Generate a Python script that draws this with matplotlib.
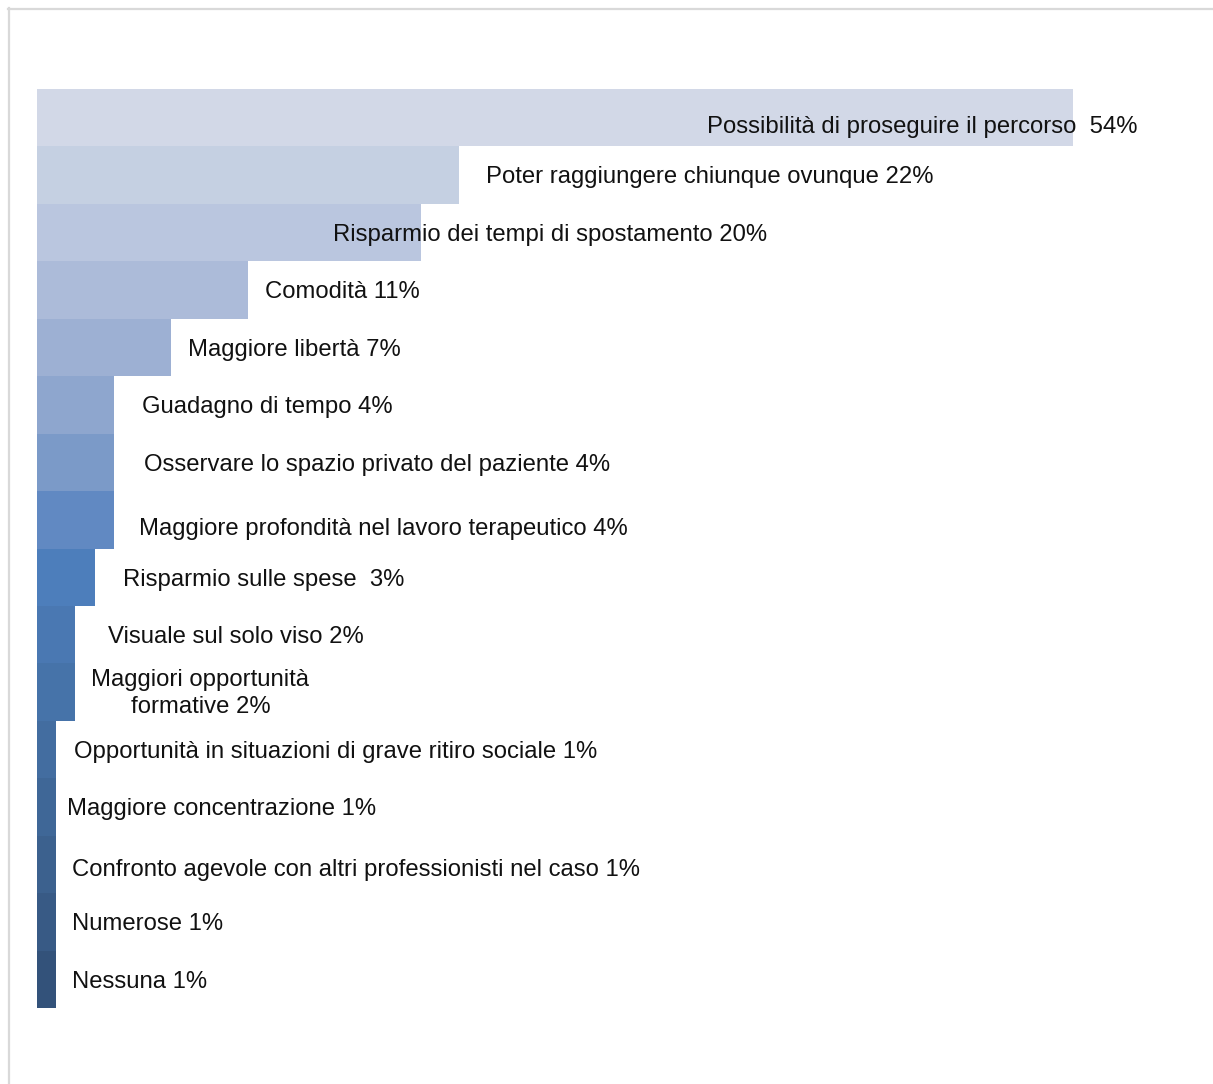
import matplotlib
matplotlib.use("Agg")
import matplotlib.pyplot as plt
from matplotlib.lines import Line2D

plt.rcParams['font.family'] = ['Liberation Sans', 'DejaVu Sans']

categories = [
    "Possibilità di proseguire il percorso ",
    "Poter raggiungere chiunque ovunque",
    "Risparmio dei tempi di spostamento",
    "Comodità",
    "Maggiore libertà",
    "Guadagno di tempo",
    "Osservare lo spazio privato del paziente",
    "Maggiore profondità nel lavoro terapeutico",
    "Risparmio sulle spese ",
    "Visuale sul solo viso",
    "Maggiori opportunità\nformative",
    "Opportunità in situazioni di grave ritiro sociale",
    "Maggiore concentrazione",
    "Confronto agevole con altri professionisti nel caso",
    "Numerose",
    "Nessuna",
]
values = [54, 22, 20, 11, 7, 4, 4, 4, 3, 2, 2, 1, 1, 1, 1, 1]

bar_colors = [
    "#D2D8E7", "#C5D0E2", "#BAC6DF", "#ACBBD9", "#9DB0D3", "#8EA6CE",
    "#7B9AC8", "#6189C2", "#4D7EBB", "#4A78B2", "#4673A9", "#436DA0",
    "#3F6797", "#3C618E", "#385A85", "#33527A",
]

# label anchors (horizontal centre in % units, vertical shift in bar units)
label_x = [46.12, 35.04, 26.73, 15.92, 13.42, 11.99, 17.72, 18.06, 11.83, 10.34,
           8.52, 15.58, 9.61, 16.60, 5.78, 5.37]
label_dy = [0.16, 0.04, 0.05, 0.04, 0.04, 0.04, 0.04, 0.16, 0.04, 0.04,
            0.02, 0.04, 0.04, 0.09, 0.04, 0.04]

W, H = 1213, 1084
fig = plt.figure(figsize=(W / 100, H / 100), dpi=100)
fig.patch.set_facecolor("white")

# outer frame
fig.add_artist(Line2D([8 / W, 1.0], [1 - 9 / H, 1 - 9 / H], color="#d9d9d9", lw=1.6,
                      transform=fig.transFigure))
fig.add_artist(Line2D([9 / W, 9 / W], [0.0, 1 - 8 / H], color="#d9d9d9", lw=1.6,
                      transform=fig.transFigure))

left, right, top, bottom = 37, 37 + 60 * 19.19, 89, 1008
ax = fig.add_axes([left / W, 1 - bottom / H, (right - left) / W, (bottom - top) / H])
y = list(range(len(values)))
ax.barh(y, values, height=1.0, color=bar_colors, edgecolor="none")
ax.set_xlim(0, 60)
ax.set_ylim(len(values) - 0.5, -0.5)
ax.axis("off")

for i, (cat, val) in enumerate(zip(categories, values)):
    ax.text(label_x[i], i + label_dy[i], f"{cat} {val}%", ha="center", va="center",
            fontsize=17.2, color="#111111", linespacing=1.3)

fig.savefig("out.png", dpi=100, facecolor="white")
